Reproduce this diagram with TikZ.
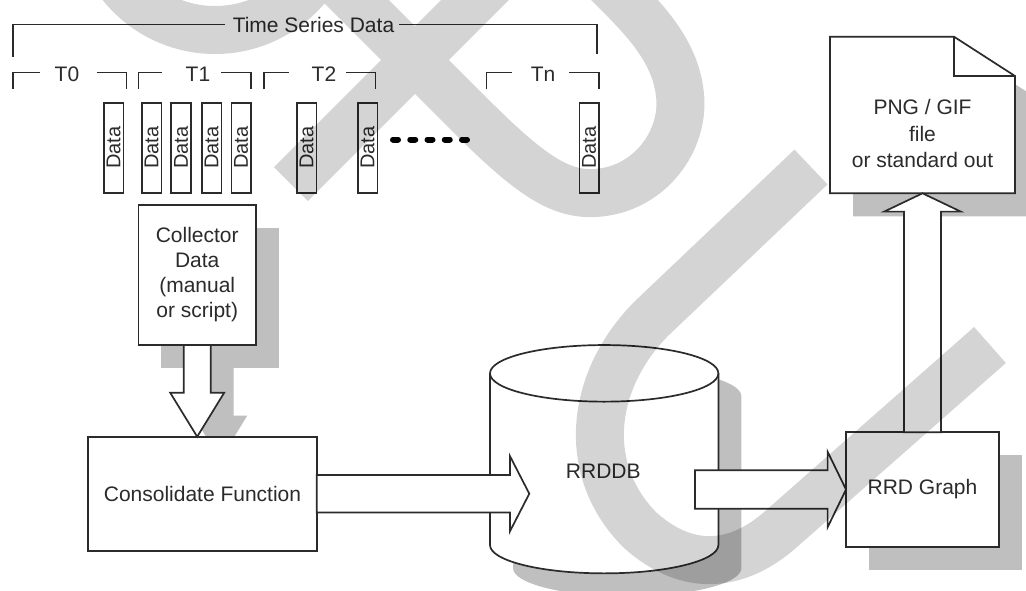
\documentclass[tikz,border=0pt]{standalone}
\usepackage{fontspec}
\setmainfont{Liberation Sans}
\usetikzlibrary{calc}

\pgfdeclarelayer{paper}
\pgfdeclarelayer{shade}
\pgfdeclarelayer{mark}
\pgfsetlayers{paper,shade,main,mark}

\definecolor{ink}{gray}{0.17}
\definecolor{shadecol}{gray}{0.75}

\tikzset{
  ln/.style={draw=ink, line width=1.7pt},
  txt/.style={text=ink, font=\fontsize{21}{25}\selectfont, inner sep=0pt},
  box/.style={ln, fill=white, txt, align=center, inner sep=0pt, outer sep=0pt},
  databox/.style={box, rotate=90, minimum width=90pt, minimum height=19.7pt,
                  font=\fontsize{20}{24}\selectfont},
  blockarr/.style={ln, fill=white, line join=miter},
}

% block arrows: [style]{base}{tip}{shaft half width}{head half width}{head length}
\newcommand\rblock[6][blockarr]{%
  \path[#1] ($(#2)+(0,-#4)$) -- ($(#3)+(-#6,-#4)$) -- ($(#3)+(-#6,-#5)$) -- (#3)
    -- ($(#3)+(-#6,#5)$) -- ($(#3)+(-#6,#4)$) -- ($(#2)+(0,#4)$) -- cycle;}
\newcommand\dblock[6][blockarr]{%
  \path[#1] ($(#2)+(-#4,0)$) -- ($(#3)+(-#4,-#6)$) -- ($(#3)+(-#5,-#6)$) -- (#3)
    -- ($(#3)+(#5,-#6)$) -- ($(#3)+(#4,-#6)$) -- ($(#2)+(#4,0)$) -- cycle;}
\newcommand\ublock[6][blockarr]{%
  \path[#1] ($(#2)+(-#4,0)$) -- ($(#3)+(-#4,#6)$) -- ($(#3)+(-#5,#6)$) -- (#3)
    -- ($(#3)+(#5,#6)$) -- ($(#3)+(#4,#6)$) -- ($(#2)+(#4,0)$) -- cycle;}

% cylinder outline around a node: [style]{node}{end radius}
\newcommand\cylinderat[3][]{%
  \path[#1] ($(#2.north west)+(0,#3)$) -- ($(#2.south west)+(0,-#3)$)
    arc[start angle=180, end angle=0, x radius=114.2, y radius=#3]
    -- ($(#2.north east)+(0,#3)$)
    arc[start angle=0, end angle=-180, x radius=114.2, y radius=#3] -- cycle;}

% document sheet with folded corner: [style]{node}
\newcommand\sheetat[2][]{%
  \path[#1] (#2.north west) -- ($(#2.north east)+(-61,0)$) -- ($(#2.north east)+(0,39.3)$)
    -- (#2.south east) -- (#2.south west) -- cycle;}

% time slot bracket: {name}{label}{label x}{left x}{left end}{right start}{right x}
\newcommand\slot[7]{%
  \node[txt] (#1) at (#3,74) {#2};
  \draw[ln] (#4,89) |- (#5,72.5);
  \draw[ln] (#6,72.5) -| (#7,89);}

\begin{document}
\begin{tikzpicture}[x=1pt, y=-1pt]
\useasboundingbox (0,0) rectangle (1026,590);
\begin{pgfonlayer}{paper}
  \fill[white] (0,0) rectangle (1026,590);
\end{pgfonlayer}

% ---- time series brackets
\node[txt] (tsd) at (313.5,24.5) {Time Series Data};
\draw[ln] (12.7,57) |- ($(tsd.west)+(-8,0)$);
\draw[ln] ($(tsd.east)+(5,0)$) -| (597,54);

\slot{t0}{T0}{67}{12.7}{39.5}{96.9}{126.5}
\slot{t1}{T1}{198}{138.4}{162}{221.4}{251}
\slot{t2}{T2}{324}{263.7}{288.7}{346}{375.6}
\slot{tn}{Tn}{543}{486.4}{512}{569.4}{599}

% ---- samples
\node[databox] (d1) at (113.5,147.7) {Data};
\node[databox] (d2) at (151.5,147.7) {Data};
\node[databox] (d3) at (181.1,147.7) {Data};
\node[databox] (d4) at (211.6,147.7) {Data};
\node[databox] (d5) at (241.2,147.7) {Data};
\node[databox] (d6) at (306.5,147.7) {Data};
\node[databox] (d7) at (367.7,147.7) {Data};
\node[databox] (d8) at (589.2,147.7) {Data};
\draw[black, line width=6pt, line cap=round, dash pattern=on 5pt off 12.25pt]
  (393,139.5) -- (467,139.5);

% ---- processing blocks
\node[box, minimum width=117.7pt, minimum height=140pt] (coll) at (197.2,275)
  {Collector\\Data\\(manual\\or script)};
\node[box, minimum width=228.4pt, minimum height=114pt] (cons) at (202.5,493.7)
  {Consolidate Function};
\node[inner sep=0pt, outer sep=0pt, minimum width=228.4pt, minimum height=228.3pt]
  (db) at (604.2,459.2) {};
\cylinderat[ln, fill=white]{db}{28.3}
\draw[ln] ($(db.north west)+(0,28.3)$)
  arc[start angle=180, end angle=0, x radius=114.2, y radius=28.3];
\node[txt] (dblabel) at (603.3,471.7) {RRDDB};
\node[box, minimum width=153pt, minimum height=114.4pt] (graph) at (922.5,489.5)
  {RRD Graph};
\node[inner sep=0pt, outer sep=0pt, minimum width=185pt, minimum height=156.6pt]
  (png) at (922.5,115) {};
\sheetat[ln, fill=white]{png}
\draw[ln] ($(png.north east)+(-61,0)$) |- ($(png.north east)+(0,39.3)$);
\node[txt, align=center, font=\fontsize{21}{26.6}\selectfont] (pngtext) at (922.5,133.5)
  {PNG / GIF\\file\\or standard out};

% ---- flow arrows
\coordinate (c1s) at (coll.south);
\coordinate (c1t) at (coll.south |- cons.north);
\dblock{c1s}{c1t}{13.5}{27}{44}
\coordinate (c2t) at ($(cons.east -| db.west)+(39.3,0)$);
\rblock{cons.east}{c2t}{18.8}{37.5}{19.3}
\coordinate (c3s) at ($(graph.west -| db.east)+(-23.4,0)$);
\rblock{c3s}{graph.west}{19.2}{37.8}{18.4}
\ublock{graph.north}{png.south}{18.5}{38.3}{18.3}

% ---- drop shadows
\begin{pgfonlayer}{shade}
  \fill[shadecol] ($(coll.north west)+(23,23)$) rectangle ($(coll.south east)+(23,23)$);
  \coordinate (c1ss) at ($(c1s)+(23,23)$);
  \coordinate (c1ts) at ($(c1t)+(23,23)$);
  \dblock[fill=shadecol]{c1ss}{c1ts}{13.5}{27}{44}
  \node[inner sep=0pt, outer sep=0pt, minimum width=228.4pt, minimum height=228.3pt]
    (dbs) at ($(db)+(23,23)$) {};
  \cylinderat[fill=shadecol]{dbs}{28.3}
  \fill[shadecol] ($(graph.north west)+(23,23)$) rectangle ($(graph.south east)+(23,23)$);
  \node[inner sep=0pt, outer sep=0pt, minimum width=185pt, minimum height=156.6pt]
    (pngs) at ($(png)+(23,23)$) {};
  \sheetat[fill=shadecol]{pngs}
\end{pgfonlayer}

% ---- translucent brush strokes over the sheet
\begin{pgfonlayer}{mark}
  \draw[black, draw opacity=0.17, line width=48pt, line cap=butt, line join=round]
    (215,-90) circle[radius=120]
    (291,184) -- (530,-55)
    (300,-55) -- (470,115) .. controls (530,175) and (560,195) .. (595,193)
      .. controls (650,190) and (685,140) .. (680,95)
      .. controls (676,55) and (650,25) .. (620,-5) -- (580,-45)
    (811,167) -- (652,318) .. controls (590,380) and (580,470) .. (640,530)
      .. controls (690,575) and (740,565) .. (780,530) -- (990,345);
\end{pgfonlayer}
\end{tikzpicture}
\end{document}
